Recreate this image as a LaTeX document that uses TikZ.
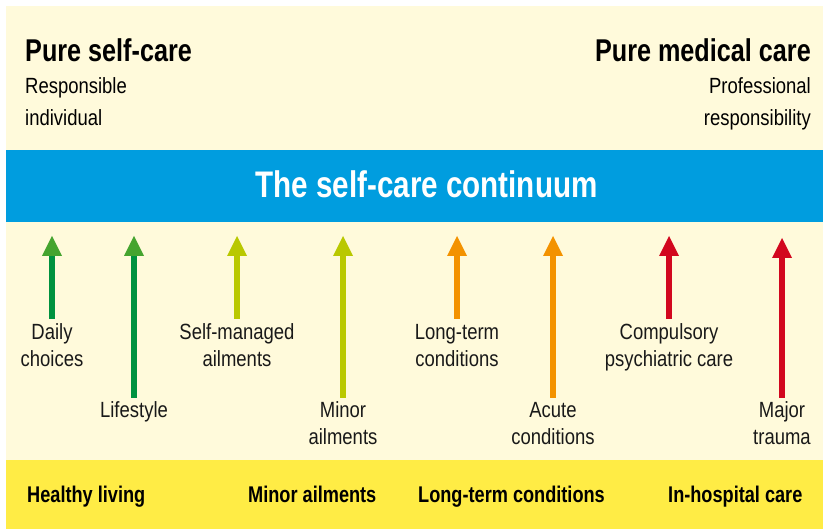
\documentclass[tikz,border=0pt]{standalone}
\usepackage{fontspec}
\setmainfont{Liberation Sans}
\newfontfamily\regc{Liberation Sans}[FakeStretch=0.84]
\newfontfamily\boldc{Liberation Sans}[FakeStretch=0.8]
\usetikzlibrary{arrows.meta}

\definecolor{cream}{HTML}{FFFADB}
\definecolor{bandblue}{HTML}{009DDF}
\definecolor{bandyellow}{HTML}{FFEC45}
\definecolor{gline}{HTML}{00923F}
\definecolor{ghead}{HTML}{45A42F}
\definecolor{lime}{HTML}{B9C800}
\definecolor{amber}{HTML}{F39200}
\definecolor{crimson}{HTML}{D2071E}

% multi-line nodes are placed by the baseline of their last line
\tikzset{
  heading/.style={inner sep=0pt, font=\boldc\bfseries\fontsize{31.5}{36}\selectfont},
  subhead/.style={inner sep=0pt, font=\regc\fontsize{22}{32}\selectfont},
  itemlabel/.style={inner sep=0pt, anchor=base, align=center,
    font=\regc\fontsize{22}{27}\selectfont, text=black!90},
  zonelabel/.style={inner sep=0pt, anchor=base west,
    font=\boldc\bfseries\fontsize{22.7}{27}\selectfont},
  careline/.style={line width=5.5pt,
    -{Triangle[width=20pt,length=20pt,line width=0pt,fill=#1,color=#1]}},
}

\begin{document}
\begin{tikzpicture}[x=1pt,y=-1pt]
\useasboundingbox (0,0) rectangle (823,529);

% background bands
\fill[cream] (6,6) rectangle (823,529);
\fill[bandblue] (6,150) rectangle (823,222);
\fill[bandyellow] (6,460) rectangle (823,529);

% top headings
\node[heading, anchor=base west] (selfcare) at (25,62) {Pure self-care};
\node[subhead, anchor=base west, align=left] (respind) at (25,126) {Responsible\\individual};
\node[heading, anchor=base east] (medcare) at (811,62) {Pure medical care};
\node[subhead, anchor=base east, align=right] (profresp) at (811,126) {Professional\\responsibility};

% continuum title
\node[inner sep=0pt, anchor=base, text=white,
      font=\boldc\bfseries\fontsize{37}{42}\selectfont] (title) at (426.5,198) {The self-care continuum};

% arrow end points
\foreach \n/\x/\yb/\yt in {1/52/319/236, 2/134/398/236, 3/237/319/236, 4/343/398/236,
                           5/457/319/236, 6/553/398/236, 7/669/319/236, 8/782/398/238} {
  \coordinate (b\n) at (\x,\yb);
  \coordinate (t\n) at (\x,\yt);
}

% arrows
\draw[careline=ghead, gline] (b1) -- (t1);
\draw[careline=ghead, gline] (b2) -- (t2);
\draw[careline=lime, lime] (b3) -- (t3);
\draw[careline=lime, lime] (b4) -- (t4);
\draw[careline=amber, amber] (b5) -- (t5);
\draw[careline=amber, amber] (b6) -- (t6);
\draw[careline=crimson, crimson] (b7) -- (t7);
\draw[careline=crimson, crimson] (b8) -- (t8);

% arrow labels
\node[itemlabel] (daily) at (52,367) {Daily\\choices};
\node[itemlabel] (life) at (134,418) {Lifestyle};
\node[itemlabel] (selfman) at (237,367) {Self-managed\\ailments};
\node[itemlabel] (minor) at (343,445) {Minor\\ailments};
\node[itemlabel] (longterm) at (457,367) {Long-term\\conditions};
\node[itemlabel] (acute) at (553,445) {Acute\\conditions};
\node[itemlabel] (psych) at (669,367) {Compulsory\\psychiatric care};
\node[itemlabel] (trauma) at (782,445) {Major\\trauma};

% zone labels
\node[zonelabel] (zhealthy) at (27,503) {Healthy living};
\node[zonelabel] (zminor) at (248,503) {Minor ailments};
\node[zonelabel] (zlong) at (418,503) {Long-term conditions};
\node[zonelabel] (zhosp) at (668,503) {In-hospital care};
\end{tikzpicture}
\end{document}
